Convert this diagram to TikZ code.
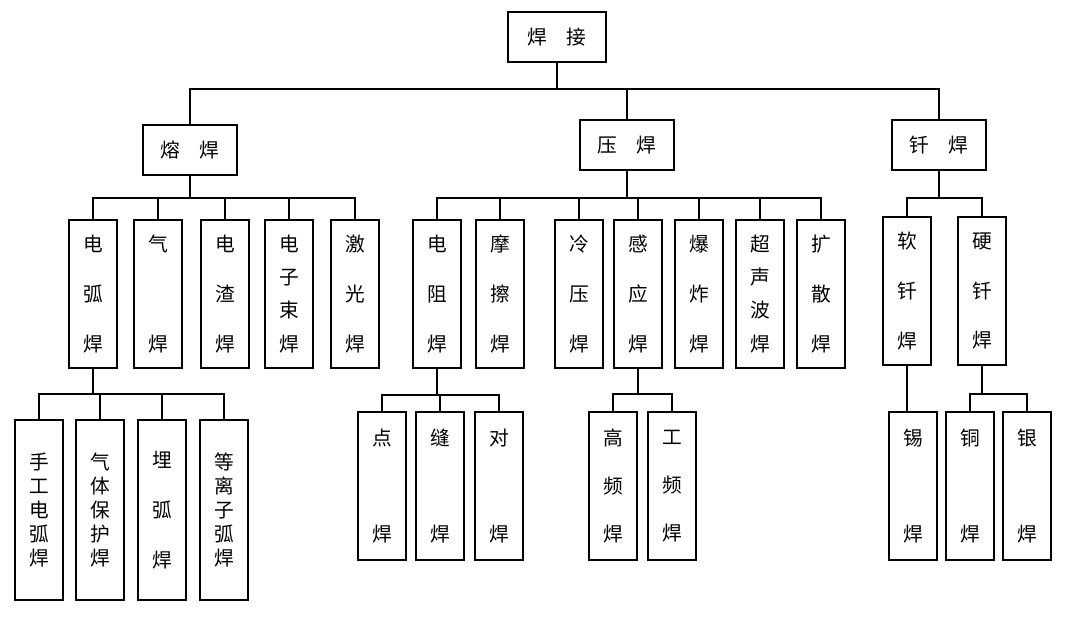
\documentclass[tikz,border=0pt]{standalone}
\usepackage{fontspec}
\newfontfamily\cjk{Noto Sans CJK SC}
\usepackage{tikz}

\begin{document}
\begin{tikzpicture}[x=0.025cm, y=-0.025cm, line width=1.5pt,
    box/.style={draw, inner sep=0pt, align=center, font=\cjk\fontsize{14}{17}\selectfont},
    headbox/.style={box, minimum width=2.45cm, minimum height=1.25cm},
    tallbox/.style={box, minimum width=1.2cm, minimum height=3.68cm},
    leafbox/.style={box, minimum width=1.2cm, minimum height=4.5cm}]
    \useasboundingbox (0,0) rectangle (1080,629);

    % Root and main kinds
    \node[headbox] (hj) at (557,37) {焊\quad 接};
    \node[headbox, minimum width=2.35cm] (rh) at (190,150) {熔\quad 焊};
    \node[headbox, minimum width=2.35cm] (yh) at (627,145) {压\quad 焊};
    \node[headbox, minimum width=2.35cm] (qh) at (939,145) {钎\quad 焊};

    % Fusion welding
    \node[tallbox] (dhh) at (93,294)  {电\\[0.65cm]弧\\[0.65cm]焊};
    \node[tallbox] (qih) at (158,294) {气\\[1.9cm]焊};
    \node[tallbox] (dzh) at (225,294) {电\\[0.65cm]渣\\[0.65cm]焊};
    \node[tallbox] (dzs) at (289,294) {电\\[0.23cm]子\\[0.23cm]束\\[0.23cm]焊};
    \node[tallbox] (jgh) at (355,294) {激\\[0.65cm]光\\[0.65cm]焊};

    \node[leafbox] (sg) at (39,510)  {手\\工\\电\\弧\\焊};
    \node[leafbox] (qt) at (100,510) {气\\体\\保\\护\\焊};
    \node[leafbox] (mh) at (162,510) {埋\\[0.65cm]弧\\[0.65cm]焊};
    \node[leafbox] (dl) at (224,510) {等\\离\\子\\弧\\焊};

    % Pressure welding
    \node[tallbox] (dzu) at (437,294) {电\\[0.65cm]阻\\[0.65cm]焊};
    \node[tallbox] (mc)  at (500,294) {摩\\[0.65cm]擦\\[0.65cm]焊};
    \node[tallbox] (ly)  at (579,294) {冷\\[0.65cm]压\\[0.65cm]焊};
    \node[tallbox] (gy)  at (638,294) {感\\[0.65cm]应\\[0.65cm]焊};
    \node[tallbox] (bz)  at (699,294) {爆\\[0.65cm]炸\\[0.65cm]焊};
    \node[tallbox] (csb) at (760,294) {超\\[0.23cm]声\\[0.23cm]波\\[0.23cm]焊};
    \node[tallbox] (ks)  at (821,294) {扩\\[0.65cm]散\\[0.65cm]焊};

    \node[tallbox] (dian) at (382,486) {点\\[1.8cm]焊};
    \node[tallbox] (feng) at (440,486) {缝\\[1.8cm]焊};
    \node[tallbox] (dui)  at (499,486) {对\\[1.8cm]焊};
    \node[tallbox] (gp)   at (613,486) {高\\[0.6cm]频\\[0.6cm]焊};
    \node[tallbox] (gpin) at (672,486) {工\\[0.6cm]频\\[0.6cm]焊};

    % Brazing and soldering
    \node[tallbox] (rq) at (907,291) {软\\[0.65cm]钎\\[0.65cm]焊};
    \node[tallbox] (yq) at (982,291) {硬\\[0.65cm]钎\\[0.65cm]焊};
    \node[tallbox] (xh) at (913,486) {锡\\[1.8cm]焊};
    \node[tallbox] (th) at (970,486) {铜\\[1.8cm]焊};
    \node[tallbox] (yh2) at (1027,486) {银\\[1.8cm]焊};

    % Connectors
    \foreach \c in {rh,yh,qh} \draw (hj.south) -- ++(0,26) -| (\c.north);
    \foreach \c in {dhh,qih,dzh,dzs,jgh} \draw (rh.south) -- ++(0,22) -| (\c.north);
    \foreach \c in {dzu,mc,ly,gy,bz,csb,ks} \draw (yh.south) -- ++(0,27) -| (\c.north);
    \foreach \c in {rq,yq} \draw (qh.south) -- ++(0,27) -| (\c.north);
    \foreach \c in {sg,qt,mh,dl} \draw (dhh.south) -- ++(0,25) -| (\c.north);
    \foreach \c in {dian,feng,dui} \draw (dzu.south) -- ++(0,26) -| (\c.north);
    \foreach \c in {gp,gpin} \draw (gy.south) -- ++(0,25) -| (\c.north);
    \draw (rq.south) -- (rq.south |- xh.north);
    \foreach \c in {th,yh2} \draw (yq.south) -- ++(0,28) -| (\c.north);
\end{tikzpicture}
\end{document}
